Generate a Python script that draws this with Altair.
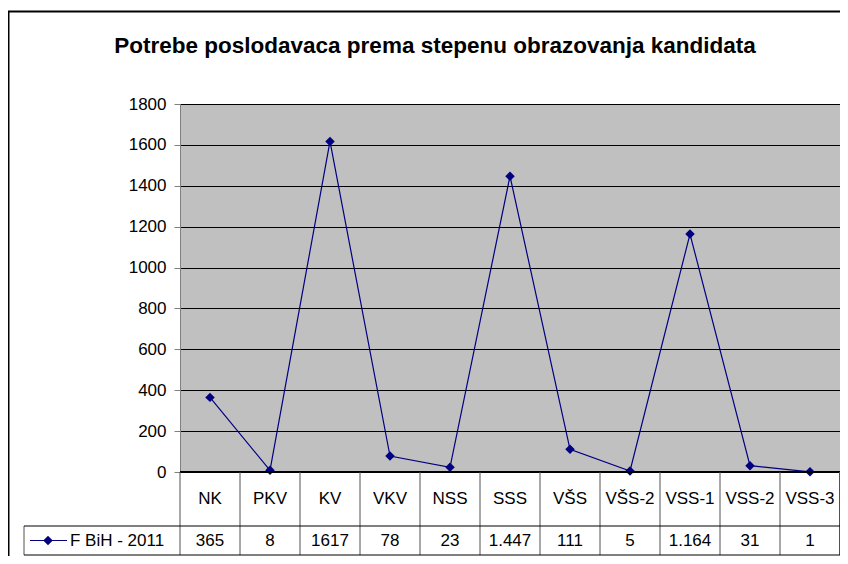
import altair as alt
import pandas as pd

categories = ["NK", "PKV", "KV", "VKV", "NSS", "SSS", "VŠS", "VŠS-2", "VSS-1", "VSS-2", "VSS-3"]
values = [365, 8, 1617, 78, 23, 1447, 111, 5, 1164, 31, 1]
value_labels = ["365", "8", "1617", "78", "23", "1.447", "111", "5", "1.164", "31", "1"]
y_ticks = [0, 200, 400, 600, 800, 1000, 1200, 1400, 1600, 1800]
series_name = "F BiH - 2011"
title_text = "Potrebe poslodavaca prema stepenu obrazovanja kandidata"

FONT = "Liberation Sans, Arial, sans-serif"
NAVY = "#000080"
LEFT = 172
W, H = 660, 368
ROW1, ROW2 = 422, 451   # table row dividers below the plot (pixels from plot top)
OFF = 181 - (8 + LEFT)  # keep left-side decorations at the reference page positions

df = pd.DataFrame({"cat": categories, "value": values, "label": value_labels})
one = pd.DataFrame({"a": [0]})

xs = alt.Scale(domain=categories, paddingInner=0, paddingOuter=0)
x_enc = alt.X("cat:N", scale=xs, sort=categories, axis=None)
y_enc = alt.Y("value:Q", scale=alt.Scale(domain=[0, 1800], nice=False),
              axis=alt.Axis(values=y_ticks, format="d", title=None, grid=True, gridColor="#000000",
                            gridWidth=1, labelFont=FONT, labelFontSize=17,
                            labelColor="#000000", tickColor="#808080", tickSize=6,
                            labelPadding=8, domainColor="#808080", domainWidth=1))

line = alt.Chart(df).mark_line(color=NAVY, strokeWidth=1.2).encode(x=x_enc, y=y_enc)
pts = alt.Chart(df).mark_point(shape="diamond", filled=True, size=90, color=NAVY, opacity=1).encode(x=x_enc, y="value:Q")

zero = alt.Chart(one).mark_rule(color="#000000", strokeWidth=2).encode(
    x=alt.value(0), x2=alt.value(W), y=alt.value(H))

header = alt.Chart(df).mark_text(font=FONT, fontSize=17, color="#000000", baseline="middle").encode(
    x=alt.X("cat:N", scale=xs, sort=categories, axis=None), y=alt.value((H + ROW1) / 2), text="cat:N")
vals = alt.Chart(df).mark_text(font=FONT, fontSize=17, color="#000000", baseline="middle").encode(
    x=alt.X("cat:N", scale=xs, sort=categories, axis=None), y=alt.value((ROW1 + ROW2) / 2), text="label:N")

vlines = alt.Chart(df).mark_rule(color="#505050", strokeWidth=1).encode(
    x=alt.X("cat:N", scale=xs, sort=categories, axis=None, bandPosition=0),
    y=alt.value(H), y2=alt.value(ROW2))
vright = alt.Chart(one).mark_rule(color="#505050", strokeWidth=1).encode(
    x=alt.value(W - 0.5), y=alt.value(H), y2=alt.value(ROW2))
vleg = alt.Chart(one).mark_rule(color="#505050", strokeWidth=1).encode(
    x=alt.value(-157 + OFF), y=alt.value(ROW1), y2=alt.value(ROW2))
h1 = alt.Chart(one).mark_rule(color="#000000", strokeWidth=1).encode(
    x=alt.value(-157 + OFF), x2=alt.value(W), y=alt.value(ROW1))
h2 = alt.Chart(one).mark_rule(color="#000000", strokeWidth=1).encode(
    x=alt.value(-157 + OFF), x2=alt.value(W), y=alt.value(ROW2))

LY = (ROW1 + ROW2) / 2
leg_line = alt.Chart(one).mark_rule(color=NAVY, strokeWidth=1.2).encode(
    x=alt.value(-151 + OFF), x2=alt.value(-114 + OFF), y=alt.value(LY))
leg_pt = alt.Chart(one).mark_point(shape="diamond", filled=True, size=90, color=NAVY, opacity=1).encode(
    x=alt.value(-133 + OFF), y=alt.value(LY))
leg_txt = alt.Chart(one).mark_text(font=FONT, fontSize=17, color="#000000", align="left",
                                   baseline="middle", text=series_name).encode(
    x=alt.value(-111 + OFF), y=alt.value(LY))

title = alt.Chart(one).mark_text(font=FONT, fontSize=22.5, fontWeight="bold", color="#000000",
                                 align="center", baseline="middle", text=title_text).encode(
    x=alt.value(254 + OFF), y=alt.value(-58))

border = alt.Chart(one).mark_rect(fill=None, fillOpacity=0, stroke="#000000", strokeWidth=2).encode(
    x=alt.value(-172.5 + OFF), x2=alt.value(720), y=alt.value(-92.5), y2=alt.value(520))

chart = alt.layer(
    line, pts, zero, header, vals, vlines, vright, vleg, h1, h2,
    leg_line, leg_pt, leg_txt, title, border
).properties(
    width=W, height=H,
    padding={"left": LEFT, "top": 96, "right": 0, "bottom": 84},
    autosize=alt.AutoSizeParams(type="none"),
    background="#ffffff",
).configure_view(
    fill="#C0C0C0", stroke="#808080", strokeWidth=1
)

chart.save("out.html", embed_options={"renderer": "svg", "actions": False})
